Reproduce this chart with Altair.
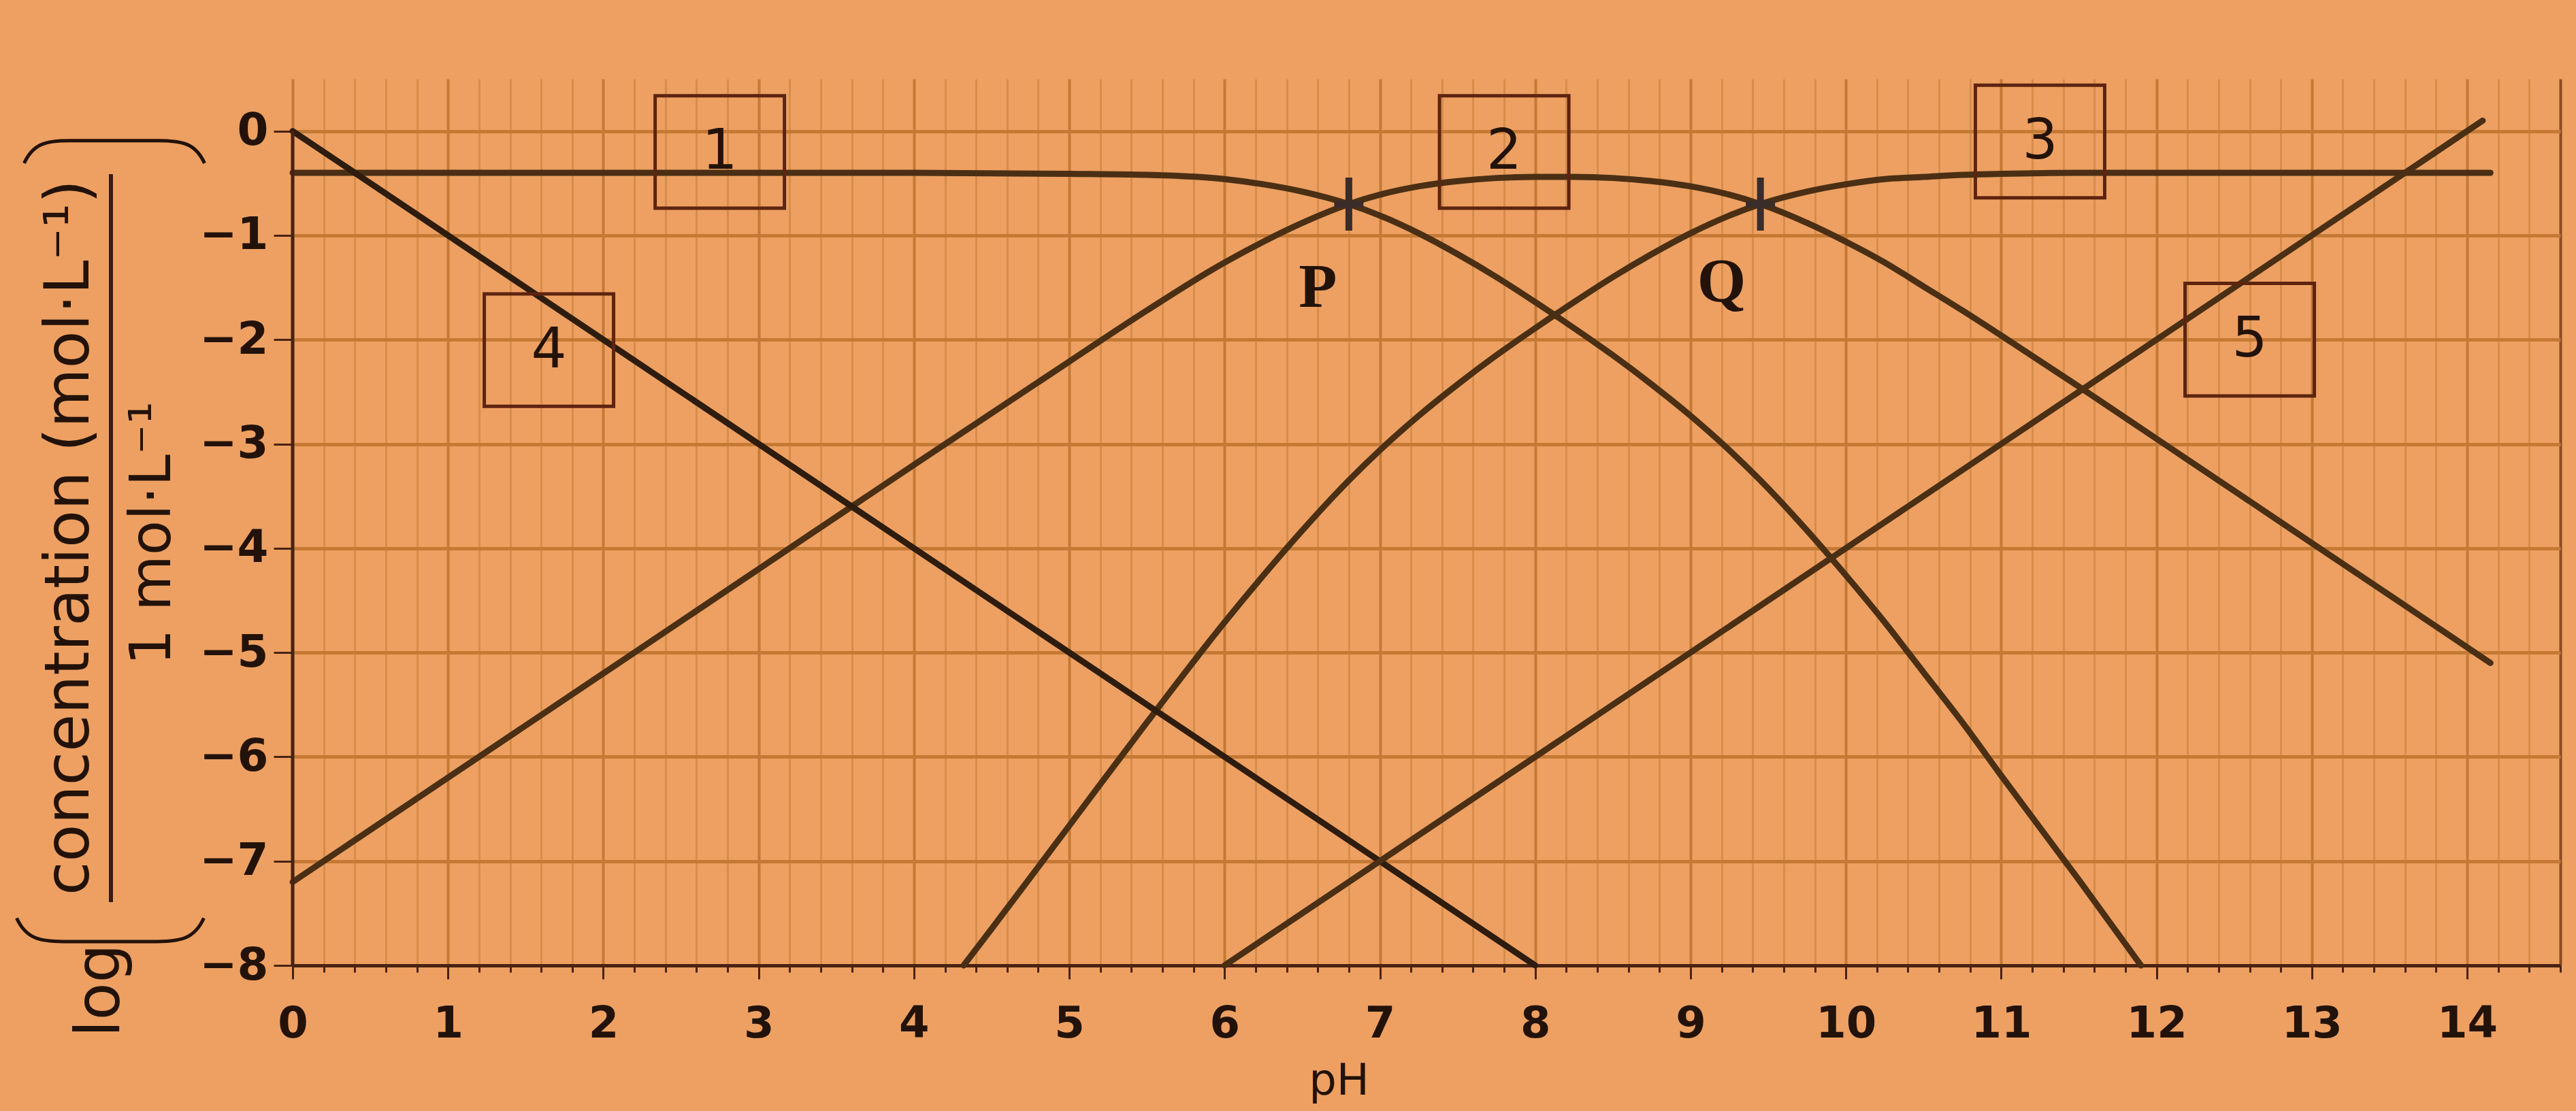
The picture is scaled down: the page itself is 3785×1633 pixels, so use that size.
import altair as alt
import pandas as pd

# --- species curves: log10(concentration / 1 mol/L) versus pH ---
ph_1 = [0, 1, 2, 3, 4, 5, 5.5, 6, 6.25, 6.5, 6.8, 7, 7.25, 7.5, 7.75, 8, 8.25,
        8.5, 8.75, 9, 9.25, 9.45, 9.75, 10, 10.25, 10.5, 10.75, 11, 11.5, 11.9]
log_1 = [-0.40, -0.40, -0.40, -0.40, -0.40, -0.41, -0.42, -0.46, -0.51, -0.58,
         -0.70, -0.81, -0.98, -1.18, -1.40, -1.64, -1.89, -2.15, -2.43, -2.73,
         -3.06, -3.35, -3.83, -4.26, -4.71, -5.19, -5.67, -6.18, -7.18, -8.00]

ph_2 = [0, 1, 2, 3, 4, 5, 5.5, 6, 6.25, 6.5, 6.8, 7, 7.25, 7.5, 7.75, 8, 8.25,
        8.5, 8.75, 9, 9.25, 9.45, 9.75, 10, 10.25, 10.5, 10.75, 11, 11.5, 12,
        12.5, 13, 13.5, 14.15]
log_2 = [-7.20, -6.20, -5.20, -4.20, -3.20, -2.21, -1.72, -1.26, -1.06, -0.88,
         -0.70, -0.61, -0.53, -0.48, -0.45, -0.44, -0.44, -0.45, -0.48, -0.53,
         -0.61, -0.70, -0.88, -1.06, -1.26, -1.49, -1.72, -1.96, -2.45, -2.95,
         -3.45, -3.95, -4.45, -5.10]

ph_3 = [4.32, 4.5, 5, 5.5, 6, 6.25, 6.5, 6.8, 7, 7.25, 7.5, 7.75, 8, 8.25, 8.5,
        8.75, 9, 9.25, 9.45, 9.75, 10, 10.25, 10.5, 10.75, 11, 11.5, 12, 13, 14.15]
log_3 = [-8.00, -7.65, -6.66, -5.67, -4.71, -4.26, -3.83, -3.35, -3.06, -2.73,
         -2.43, -2.15, -1.89, -1.64, -1.40, -1.18, -0.98, -0.81, -0.70, -0.58,
         -0.51, -0.46, -0.44, -0.42, -0.41, -0.40, -0.40, -0.40, -0.40]

ph_4 = [0, 8]
log_4 = [0, -8]

ph_5 = [6, 14.1]
log_5 = [-8, 0.1]

# --- boxed curve numbers ---
box_names = ["1", "2", "3", "4", "5"]
box_ph = [2.75, 7.8, 11.25, 1.65, 12.6]
box_log = [-0.2, -0.2, -0.1, -2.1, -2.0]

# --- marked points P and Q ---
point_names = ["P", "Q"]
point_ph = [6.8, 9.45]
point_log = [-0.7, -0.7]
point_label_ph = [6.6, 9.2]
point_label_log = [-1.5, -1.45]

x_ticks = [round(i * 0.2, 1) for i in range(0, 74)]
y_ticks = list(range(-8, 1))

rows = []
for name, xs, ys in [("1", ph_1, log_1), ("2", ph_2, log_2), ("3", ph_3, log_3),
                     ("4", ph_4, log_4), ("5", ph_5, log_5)]:
    for x, y in zip(xs, ys):
        rows.append({"curve": name, "pH": x, "log": y})
curves = pd.DataFrame(rows)

boxes = pd.DataFrame({"name": box_names, "pH": box_ph, "log": box_log})
points = pd.DataFrame({"name": point_names, "pH": point_ph, "log": point_log,
                       "lpH": point_label_ph, "llog": point_label_log})

INK = "#22120a"
AXIS = "#4a2212"
FONT = "DejaVu Sans"
PLOT_W, PLOT_H = 3332, 1303

is_int = "abs(datum.value - round(datum.value)) < 0.01"

x_scale = alt.Scale(domain=[0, 14.6], nice=False, zero=False)
y_scale = alt.Scale(domain=[-8, 0.5], nice=False, zero=False)

x_axis = alt.Axis(
    values=x_ticks,
    title="pH",
    labelExpr=f"{is_int} && datum.value < 14.5 ? format(round(datum.value), 'd') : ''",
    labelOverlap=False,
    labelFlush=False,
    labelFont=FONT,
    labelFontSize=64,
    labelFontWeight="bold",
    labelColor=INK,
    labelPadding=34,
    grid=True,
    gridColor={"condition": [{"test": "datum.value > 14.55", "value": "#8a4a20"},
                             {"test": is_int, "value": "#c47a34"}],
               "value": "#d68d4a"},
    gridWidth={"condition": [{"test": "datum.value > 14.55", "value": 4},
                             {"test": is_int, "value": 4}],
               "value": 3},
    tickSize={"condition": {"test": is_int, "value": 20}, "value": 10},
    tickColor=AXIS,
    tickWidth=3,
    domainColor=AXIS,
    domainWidth=5,
    titleFont=FONT,
    titleFontSize=64,
    titleFontWeight="normal",
    titleColor=INK,
    titleX=1537,
    titleY=170,
    titleBaseline="middle",
)

y_axis = alt.Axis(
    values=y_ticks,
    title=None,
    labelExpr="datum.value == 0 ? '0' : '\u2212' + format(-datum.value, 'd')",
    labelOverlap=False,
    labelFlush=False,
    labelFont=FONT,
    labelFontSize=66,
    labelFontWeight="bold",
    labelColor=INK,
    labelPadding=8,
    grid=True,
    gridColor="#c47a34",
    gridWidth=5,
    tickSize=28,
    tickColor=AXIS,
    tickWidth=3,
    domain=False,
)

lines = alt.Chart(curves).mark_line(interpolate="monotone", strokeCap="round").encode(
    x=alt.X("pH:Q", scale=x_scale, axis=x_axis),
    y=alt.Y("log:Q", scale=y_scale, axis=y_axis),
    color=alt.Color("curve:N", legend=None,
                    scale=alt.Scale(domain=["1", "2", "3", "4", "5"],
                                    range=["#4a2f14", "#4a2f14", "#4a2f14", "#2e1c0e", "#4a2f14"])),
    strokeWidth=alt.StrokeWidth("curve:N", legend=None,
                                scale=alt.Scale(domain=["1", "2", "3", "4", "5"],
                                                range=[9, 9, 9, 11, 8])),
)

# left axis line, drawn from -8 up to 0 only
y_line = alt.Chart(alt.Data(values=[{}])).mark_rule(color=AXIS, strokeWidth=5).encode(
    x=alt.datum(0, scale=x_scale), y=alt.datum(-8, scale=y_scale), y2=alt.datum(0)
)

box_frames = alt.Chart(boxes).mark_point(
    shape="M-1,-0.87H1V0.87H-1Z", filled=False, stroke="#5e2410", strokeWidth=5,
    size=190 * 190, opacity=1,
).encode(x="pH:Q", y="log:Q")

box_text = alt.Chart(boxes).mark_text(
    font=FONT, fontSize=82, color=INK, baseline="middle", align="center"
).encode(x="pH:Q", y="log:Q", text="name:N")

crosses = alt.Chart(points).mark_point(
    shape="M0,-1V1M-0.55,0H0.55", filled=False, stroke="#3a2c2a", strokeWidth=10,
    size=78 * 78, opacity=1,
).encode(x="pH:Q", y="log:Q")

point_text = alt.Chart(points).mark_text(
    font="Liberation Serif", fontSize=92, fontWeight="bold", color=INK,
    baseline="middle", align="center"
).encode(x="lpH:Q", y="llog:Q", text="name:N")

# y-axis title: log( concentration (mol·L⁻¹) / 1 mol·L⁻¹ ), written bottom-to-top
title_src = alt.Data(values=[{}])
numer = alt.Chart(title_src).mark_text(
    text="concentration (mol\u00b7L\u207b\u00b9)", font=FONT, fontSize=90, angle=270,
    color=INK, align="center", baseline="middle",
).encode(x=alt.value(-327), y=alt.value(674))
denom = alt.Chart(title_src).mark_text(
    text="1 mol\u00b7L\u207b\u00b9", font=FONT, fontSize=84, angle=270,
    color=INK, align="center", baseline="middle",
).encode(x=alt.value(-205), y=alt.value(668))
log_word = alt.Chart(title_src).mark_text(
    text="log", font=FONT, fontSize=90, angle=270,
    color=INK, align="center", baseline="middle",
).encode(x=alt.value(-282), y=alt.value(1340))
frac_bar = alt.Chart(title_src).mark_rule(color="#3c1a0c", strokeWidth=6).encode(
    x=alt.value(-267), y=alt.value(140), y2=alt.value(1210)
)
paren_low = alt.Chart(title_src).mark_point(
    shape="M-1,-0.12C-0.9,0.1 -0.75,0.13 -0.5,0.13L0.5,0.13C0.75,0.13 0.9,0.1 1,-0.12",
    filled=False, stroke=INK, strokeWidth=5, size=275 * 275, opacity=1,
).encode(x=alt.value(-268), y=alt.value(1250))
paren_high = alt.Chart(title_src).mark_point(
    shape="M-1,0.12C-0.9,-0.1 -0.75,-0.13 -0.5,-0.13L0.5,-0.13C0.75,-0.13 0.9,-0.1 1,0.12",
    filled=False, stroke=INK, strokeWidth=5, size=265 * 265, opacity=1,
).encode(x=alt.value(-262), y=alt.value(108))

chart = alt.layer(
    lines, y_line, box_frames, box_text, crosses, point_text,
    numer, denom, log_word, frac_bar, paren_low, paren_high,
).properties(
    width=PLOT_W,
    height=PLOT_H,
    background="#eda062",
    padding={"left": 430, "top": 116, "right": 23, "bottom": 214},
    autosize=alt.AutoSizeParams(type="none"),
).configure_view(stroke=None)

chart.save("out.html", embed_options={"renderer": "svg", "actions": False})
